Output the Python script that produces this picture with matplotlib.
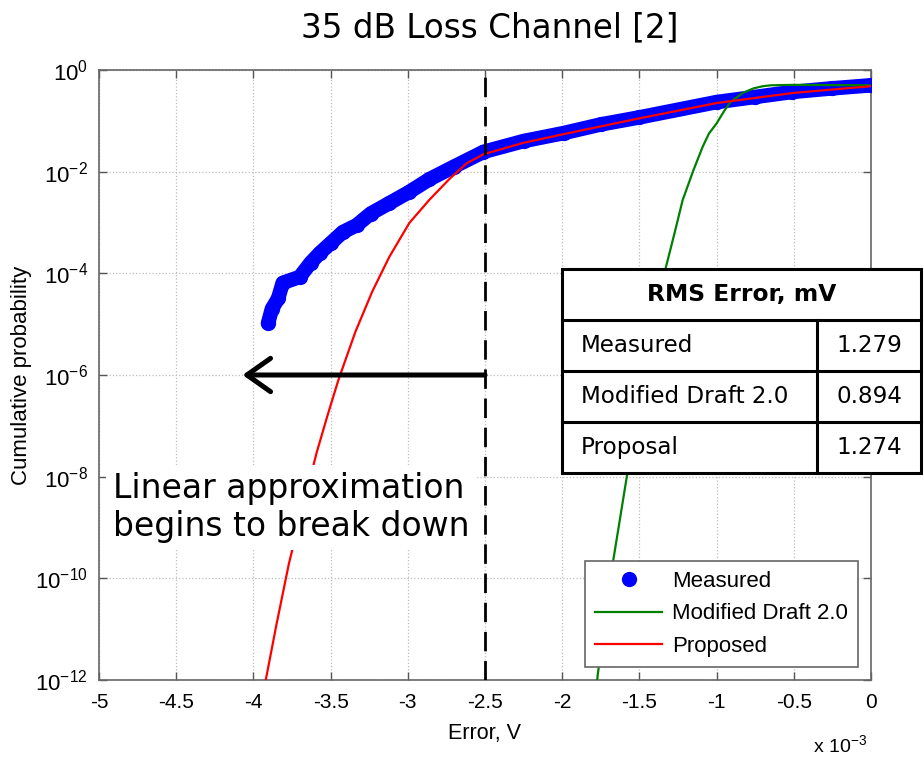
import matplotlib
matplotlib.use('Agg')
import matplotlib.pyplot as plt
from matplotlib.patches import Rectangle
from matplotlib.ticker import FixedLocator, NullLocator

# ---------------- data (x in mV, y = cumulative probability) ----------------
meas_x = [-3.905, -3.88, -3.84, -3.81, -3.70, -3.63, -3.57, -3.50, -3.42, -3.33,
          -3.24, -3.12, -2.99, -2.86, -2.70, -2.51, -2.25, -1.99, -1.75, -1.50,
          -1.00, -0.75, -0.51, -0.25, 0.0]
meas_p = [1.05e-5, 2.0e-5, 3.2e-5, 6.5e-5, 8.5e-5, 1.6e-4, 2.5e-4, 3.9e-4, 6.5e-4, 8.9e-4,
          1.5e-3, 2.4e-3, 4.0e-3, 7.1e-3, 1.26e-2, 2.45e-2, 4.0e-2, 5.75e-2, 8.5e-2, 0.117,
          0.234, 0.295, 0.37, 0.436, 0.50]

prop_x = [-3.95, -3.92, -3.85, -3.77, -3.68, -3.59, -3.52, -3.45, -3.34, -3.23,
          -3.12, -2.99, -2.86, -2.73, -2.62, -2.51, -2.25, -2.0, -1.5, -1.0, -0.5, 0.0]
prop_p = [4e-13, 1.0e-12, 1.26e-11, 1.95e-10, 2.5e-9, 3.0e-8, 1.6e-7, 7.9e-7, 7.0e-6, 4.4e-5,
          2.1e-4, 9.8e-4, 2.8e-3, 7.2e-3, 1.45e-2, 2.2e-2, 3.7e-2, 5.4e-2, 0.112, 0.224, 0.355, 0.48]

draft_x = [-1.79, -1.77, -1.67, -1.58, -1.45, -1.33, -1.27, -1.22, -1.15, -1.09,
           -1.05, -1.0, -0.95, -0.91, -0.83, -0.76, -0.70, -0.65, -0.5, 0.0]
draft_p = [3e-13, 1.26e-12, 2.2e-10, 1.07e-8, 1.26e-6, 1.26e-4, 6.6e-4, 2.75e-3, 1.07e-2, 3.1e-2,
           5.6e-2, 0.089, 0.158, 0.234, 0.355, 0.436, 0.48, 0.50, 0.51, 0.50]

x_ticks = [-5, -4.5, -4, -3.5, -3, -2.5, -2, -1.5, -1, -0.5, 0]
x_tick_labels = ['-5', '-4.5', '-4', '-3.5', '-3', '-2.5', '-2', '-1.5', '-1', '-0.5', '0']
y_ticks = [1e-12, 1e-10, 1e-8, 1e-6, 1e-4, 1e-2, 1e0]

break_x = -2.5
arrow_y = 1e-6
arrow_end_x = -4.07

table_header = 'RMS Error, mV'
table_rows = ['Measured', 'Modified Draft 2.0', 'Proposal']
table_vals = ['1.279', '0.894', '1.274']

legend_labels = ['Measured', 'Modified Draft 2.0', 'Proposed']

# ---------------- figure ----------------
plt.rcParams['font.family'] = ['Liberation Sans', 'DejaVu Sans']
plt.rcParams['mathtext.default'] = 'regular'

W, H = 924, 757
fig = plt.figure(figsize=(W / 100, H / 100), dpi=100)
ax = fig.add_axes([99 / W, 1 - 680 / H, 772 / W, 610 / H])

ax.set_yscale('log')
ax.set_xlim(-5, 0)
ax.set_ylim(1e-12, 1)

# measured band + dots
ax.plot(meas_x, meas_p, '-', color='#0000ff', lw=10.5, solid_capstyle='round',
        solid_joinstyle='round', zorder=3)
h_meas, = ax.plot(meas_x, meas_p, 'o', color='#0000ff', ms=11, mec='none',
                  label=legend_labels[0], zorder=3)
h_draft, = ax.plot(draft_x, draft_p, '-', color='#008000', lw=1.6,
                   label=legend_labels[1], zorder=4)
h_prop, = ax.plot(prop_x, prop_p, '-', color='#ff0000', lw=1.6,
                  label=legend_labels[2], zorder=5)

# dashed vertical line
ax.axvline(break_x, color='black', lw=2.0, ls=(0, (7, 3.5)), zorder=6)

# arrow
ax.annotate('', xy=(arrow_end_x, arrow_y), xytext=(break_x, arrow_y),
            arrowprops=dict(arrowstyle='->,head_length=0.85,head_width=0.6',
                            lw=3.6, color='black', mutation_scale=20,
                            shrinkA=0, shrinkB=0), zorder=7)

# ticks & grid
ax.xaxis.set_major_locator(FixedLocator(x_ticks))
ax.set_xticklabels(x_tick_labels)
ax.yaxis.set_major_locator(FixedLocator(y_ticks))
ax.yaxis.set_minor_locator(NullLocator())
ax.tick_params(which='both', direction='in', top=True, right=True, length=6,
               width=1, color='#555555', labelsize=15, labelcolor='black')
ax.tick_params(axis='x', pad=9)
ax.tick_params(axis='y', pad=8, labelsize=16)
ax.grid(True, ls=':', color='#bdbdbd', lw=0.9)
ax.set_axisbelow(True)
for s in ax.spines.values():
    s.set_color('#666666')
    s.set_linewidth(1.2)

ax.set_xlabel('Error, V', fontsize=15.5, labelpad=8)
ax.set_ylabel('Cumulative probability', fontsize=16)
ax.yaxis.set_label_coords(-0.087, 0.5)

fig.text(813 / W, 1 - 745 / H, r'x 10$^{-3}$', fontsize=14, va='center', ha='left')

# legend
leg = ax.legend(handles=[h_meas, h_draft, h_prop], loc='lower right',
                bbox_to_anchor=(0.983, 0.021), fontsize=16, frameon=True,
                fancybox=False, framealpha=1, edgecolor='#666666',
                handlelength=3.0, handletextpad=0.45, labelspacing=0.53,
                borderpad=0.45, borderaxespad=0)
leg.get_frame().set_linewidth(1.2)
leg.set_zorder(10)

# annotation text
ax.text(0.2495, 0.283, 'Linear approximation\nbegins to break down',
        transform=ax.transAxes, ha='center', va='center', ma='left',
        fontsize=23.8, family='DejaVu Sans', linespacing=1.22, zorder=8,
        bbox=dict(facecolor='white', edgecolor='none', pad=5))

# title
fig.text(490 / W, 1 - 37 / H, '35 dB Loss Channel [2]', ha='center', va='baseline',
         fontsize=23.5, family='DejaVu Sans')

# table
tx0, tx1, ty0, ty1 = 562, 921, 269, 473
tax = fig.add_axes([tx0 / W, 1 - ty1 / H, (tx1 - tx0) / W, (ty1 - ty0) / H])
tax.set_xlim(0, 1)
tax.set_ylim(0, 4)
tax.axis('off')
tax.add_patch(Rectangle((0, 0), 1, 4, facecolor='white', edgecolor='black',
                        lw=2.2, clip_on=False))
div = (817 - tx0) / (tx1 - tx0)
for yy in [1, 2, 3]:
    tax.plot([0, 1], [yy, yy], color='black', lw=2.2, clip_on=False)
tax.plot([div, div], [0, 3], color='black', lw=2.2, clip_on=False)
tax.text(0.5, 3.5, table_header, ha='center', va='center', fontsize=16.8,
         fontweight='bold', family='DejaVu Sans')
for i, (lab, val) in enumerate(zip(table_rows, table_vals)):
    yc = 2.5 - i
    tax.text((581 - tx0) / (tx1 - tx0), yc, lab, ha='left', va='center',
             fontsize=16.6, family='DejaVu Sans')
    tax.text((div + 1) / 2, yc, val, ha='center', va='center',
             fontsize=16.6, family='DejaVu Sans')

fig.savefig('out.png', dpi=100)
